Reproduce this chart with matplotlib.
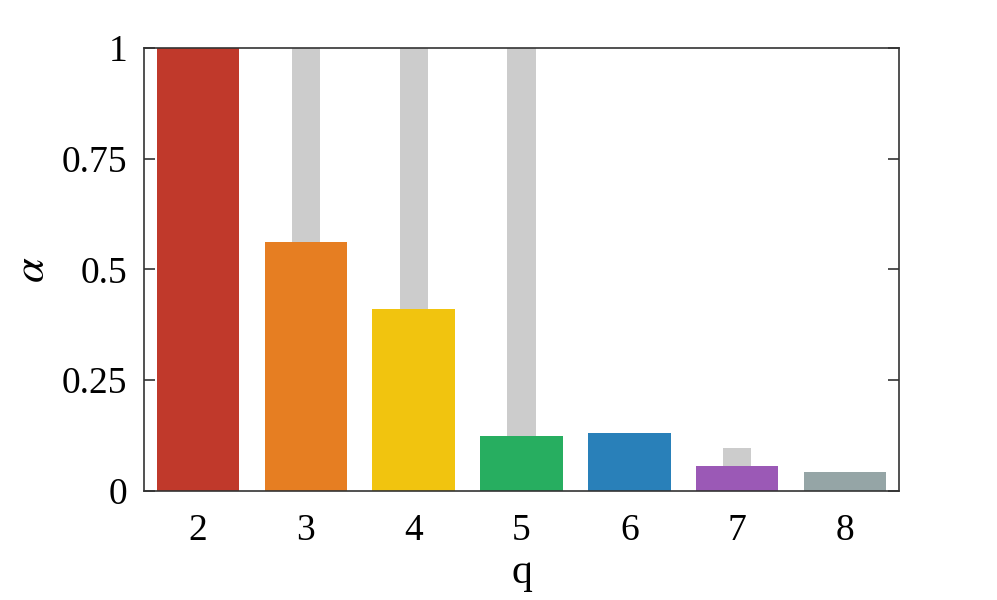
import numpy as np
import matplotlib
matplotlib.use("Agg")
import matplotlib.pyplot as plt

plt.rcParams['font.family'] = 'Liberation Serif'
plt.rcParams['mathtext.fontset'] = 'stix'

q = np.array([2, 3, 4, 5, 6, 7, 8])
alpha = np.array([1.0, 0.562, 0.411, 0.124, 0.130, 0.057, 0.043])
alpha_bg = np.array([1.0, 1.0, 1.0, 1.0, 0.0, 0.096, 0.0])
colors = ['#c0392b', '#e67e22', '#f1c40f', '#27ae60', '#2980b9', '#9b59b6', '#95a5a6']
ytick_vals = [0, 0.25, 0.5, 0.75, 1]
ytick_labels = ['0', '0.25', '0.5', '0.75', '1']

fig = plt.figure(figsize=(9.97, 6.0), dpi=100)
ax = fig.add_axes([0.1444, 0.182, 0.7573, 0.738])

# grey background bars, then coloured bars on top
ax.bar(q, alpha_bg, width=0.26, color='#cccccc', zorder=1)
ax.bar(q, alpha, width=0.765, color=colors, zorder=2)

ax.set_xlim(1.5, 8.5)
ax.set_ylim(0, 1)
ax.set_xticks(q)
ax.set_yticks(ytick_vals)
ax.set_yticklabels(ytick_labels)
ax.tick_params(axis='y', direction='in', length=8, width=1.2, color='#333333',
               labelsize=27, right=True, pad=12)
ax.tick_params(axis='x', direction='in', length=0, labelsize=27, pad=16)
for s in ax.spines.values():
    s.set_linewidth(1.2)
    s.set_color('#333333')
    s.set_zorder(3)

ax.set_xlabel('q', fontsize=30, labelpad=4)
ax.set_ylabel(r'$\alpha$', fontsize=32, labelpad=6)

plt.savefig('out.png', dpi=100)
